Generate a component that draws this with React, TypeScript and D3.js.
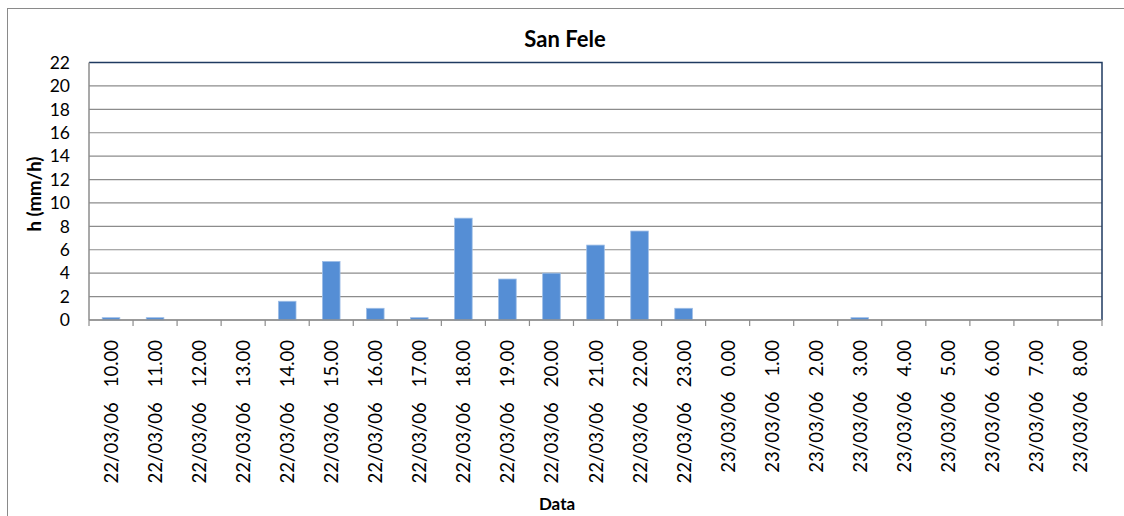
import React from "react";
import * as d3 from "d3";

// rainfall intensity, hourly, San Fele
const days = [
  "22/03/06", "22/03/06", "22/03/06", "22/03/06", "22/03/06", "22/03/06",
  "22/03/06", "22/03/06", "22/03/06", "22/03/06", "22/03/06", "22/03/06",
  "22/03/06", "22/03/06", "23/03/06", "23/03/06", "23/03/06", "23/03/06",
  "23/03/06", "23/03/06", "23/03/06", "23/03/06", "23/03/06",
];
const hours = [
  "10.00", "11.00", "12.00", "13.00", "14.00", "15.00", "16.00", "17.00",
  "18.00", "19.00", "20.00", "21.00", "22.00", "23.00", "0.00", "1.00",
  "2.00", "3.00", "4.00", "5.00", "6.00", "7.00", "8.00",
];
const values = [
  0.2, 0.2, 0, 0, 1.6, 5.0, 1.0, 0.2, 8.7, 3.5, 4.0, 6.4, 7.6, 1.0,
  0, 0, 0, 0.2, 0, 0, 0, 0, 0,
];
const yTicks = [0, 2, 4, 6, 8, 10, 12, 14, 16, 18, 20, 22];

const W = 1124;
const H = 516;
const font = "Lato, 'Liberation Sans', sans-serif";

const App = () => {
  const left = 89, right = 1102, top = 62.5, bottom = 320;
  const keys = days.map((d, i) => i);

  const x = d3.scaleBand<number>()
    .domain(keys)
    .range([left, right])
    .paddingInner(0.6)
    .paddingOuter(0.3);
  const step = x.step();

  const y = d3.scaleLinear().domain([0, 22]).range([bottom, top]);

  return (
    <svg width={W} height={H} style={{ position: "absolute", left: 0, top: 0 }}>
      <rect x={0} y={0} width={W} height={H} fill="#fff" />
      {/* chart frame */}
      <rect x={7.5} y={8.5} width={W + 10} height={H + 10} fill="none" stroke="#8a8a8a" />

      <text x={565} y={47} textAnchor="middle" fontFamily={font} fontWeight="bold" fontSize={22}>
        San Fele
      </text>

      {/* gridlines */}
      {yTicks.map((t) => (
        <line key={t} x1={left} x2={right} y1={y(t)} y2={y(t)} stroke="#8c8c8c" strokeWidth={1.2} />
      ))}

      {/* bars */}
      {values.map((v, i) => (
        <rect
          key={i}
          x={x(i)}
          y={y(v)}
          width={x.bandwidth()}
          height={bottom - y(v)}
          fill="#558ed5"
          stroke="#9dbde6"
          strokeWidth={0.8}
        />
      ))}

      {/* plot border: top and right dark, left and bottom are the axes */}
      <polyline
        points={`${left},${top} ${right},${top} ${right},${bottom}`}
        fill="none"
        stroke="#1f3a60"
        strokeWidth={1.5}
      />
      <line x1={left} x2={left} y1={top} y2={bottom} stroke="#8c8c8c" strokeWidth={1.5} />
      <line x1={left} x2={right} y1={bottom} y2={bottom} stroke="#8c8c8c" strokeWidth={1.5} />

      {/* x ticks at category boundaries */}
      {d3.range(keys.length + 1).map((i) => {
        const tx = left + i * step;
        return <line key={i} x1={tx} x2={tx} y1={bottom} y2={bottom + 6} stroke="#8c8c8c" strokeWidth={1.2} />;
      })}

      {/* y tick labels */}
      {yTicks.map((t) => (
        <text
          key={t}
          x={70}
          y={y(t)}
          dy="0.36em"
          textAnchor="end"
          fontFamily={font}
          fontSize={17.5}
          fill="#000"
        >
          {t}
        </text>
      ))}

      {/* x category labels, rotated */}
      {keys.map((i) => {
        const cx = (x(i) ?? 0) + x.bandwidth() / 2;
        return (
          <text
            key={i}
            transform={`translate(${cx + 7},340) rotate(-90)`}
            textAnchor="end"
            fontFamily={font}
            fontSize={18.5}
            fill="#000"
          >
            <tspan>{days[i]}</tspan>
            <tspan dx={15}>{hours[i]}</tspan>
          </text>
        );
      })}

      <text
        transform="translate(41,194) rotate(-90)"
        textAnchor="middle"
        fontFamily={font}
        fontWeight="bold"
        fontSize={18.5}
      >
        h (mm/h)
      </text>

      <text x={557} y={510} textAnchor="middle" fontFamily={font} fontWeight="bold" fontSize={17}>
        Data
      </text>
    </svg>
  );
};

export default App;
